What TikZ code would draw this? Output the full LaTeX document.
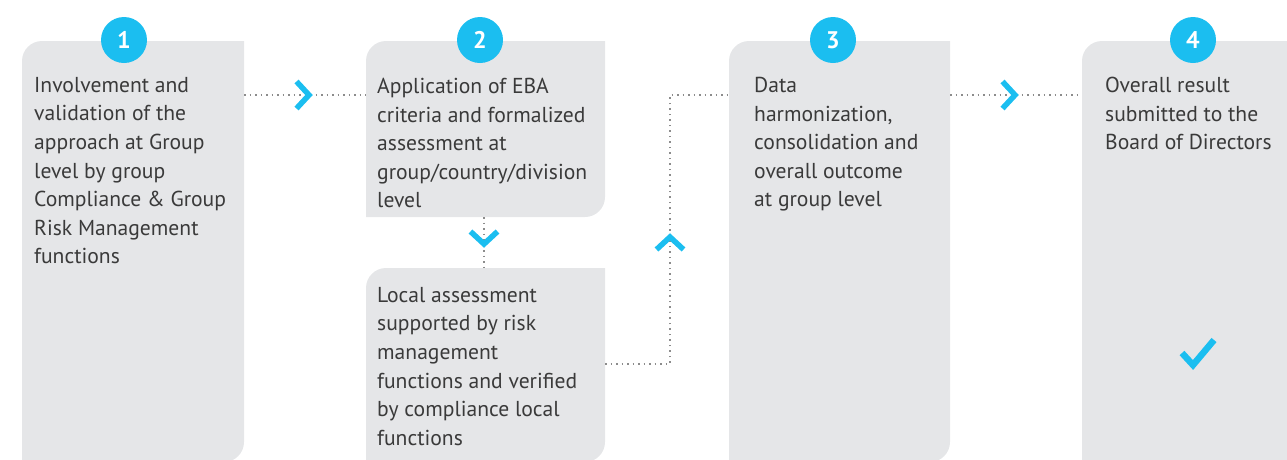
\documentclass[tikz,border=0pt]{standalone}
\usepackage{fontspec}
\setmainfont{PT Sans}
\usetikzlibrary{fit}

\definecolor{boxgray}{HTML}{E5E6E8}
\definecolor{stepblue}{HTML}{1BBEF0}
\definecolor{txtgray}{HTML}{3A3A3A}
\definecolor{dotgray}{HTML}{8C8C8C}

\tikzset{
  steptext/.style={anchor=north west, align=left, inner sep=0pt, text=txtgray,
    font=\fontsize{21.6}{28.6}\selectfont, execute at begin node=\strut},
  stepnum/.style={circle, fill=stepblue, minimum size=46pt, inner sep=0pt,
    text=white, font=\bfseries\fontsize{24}{24}\selectfont},
  dotline/.style={dotgray, line width=1.5pt, dash pattern=on 1.5pt off 4pt},
  chevron/.style={stepblue, line width=5.5pt},
  chev/.pic={\draw[chevron] (-12.5,13.5) -- (0,0) -- (-12.5,-13.5);},
}

% box with rounded top left and bottom right corner
\newcommand{\stepbox}[5]{%
  \fill[boxgray] (#2,#5) -- (#2,#3-20) arc[start angle=180,end angle=90,radius=20pt]
    -- (#4,#3) -- (#4,#5+20) arc[start angle=0,end angle=-90,radius=20pt] -- cycle;
  \node[fit={(#2,#3) (#4,#5)}, inner sep=0pt] (#1) {};
}

\begin{document}
\begin{tikzpicture}[x=1pt,y=1pt]
  \useasboundingbox (0,0) rectangle (1287,-459);

  \stepbox{s1}{22}{-41}{244}{-462}
  \stepbox{s2}{366}{-41}{605}{-217}
  \stepbox{s2b}{366}{-268}{605}{-462}
  \stepbox{s3}{729}{-41}{950}{-462}
  \stepbox{s4}{1082}{-41}{1320}{-462}

  \node[stepnum] (n1) at (124,-40) {1};
  \node[stepnum] (n2) at (480,-40) {2};
  \node[stepnum] (n3) at (833,-40) {3};
  \node[stepnum] (n4) at (1193,-40) {4};

  % strut height is 0.7 x 28.6 = 20pt above the first baseline
  \node[steptext] (t1) at (34,-77) {Involvement and\\validation of the\\approach at Group\\level by group\\Compliance \& Group\\Risk Management\\functions};
  \node[steptext] (t2) at (377,-78) {Application of EBA\\criteria and formalized\\assessment at\\group/country/division\\level};
  \node[steptext] (t2b) at (377,-287) {Local assessment\\supported by risk\\management\\functions and verified\\by compliance local\\functions};
  \node[steptext] (t3) at (754,-77) {Data\\harmonization,\\consolidation and\\overall outcome\\at group level};
  \node[steptext] (t4) at (1105,-77) {Overall result\\submitted to the\\Board of Directors};

  % connectors
  \coordinate (a12) at (309,-95);
  \coordinate (a22) at (484,-244);
  \coordinate (a23) at (670,-237);
  \coordinate (k23) at (670,-364);
  \coordinate (a34) at (1015,-95);

  \draw[dotline] (s1.east |- a12) -- (s2.west |- a12);
  \draw[dotline] (s2.south -| a22) -- (s2b.north -| a22);
  \draw[dotline] (s2b.east |- k23) -- (k23) -- (k23 |- a34) -- (s3.west |- a34);
  \draw[dotline] (s3.east |- a34) -- (s4.west |- a34);

  \pic at (a12) {chev};
  \pic[rotate=-90] at (a22) {chev};
  \pic[rotate=90] at (a23) {chev};
  \pic at (a34) {chev};

  \draw[chevron, line width=6.5pt] (1182,-353) -- (1193,-365) -- (1214,-340);
\end{tikzpicture}
\end{document}
